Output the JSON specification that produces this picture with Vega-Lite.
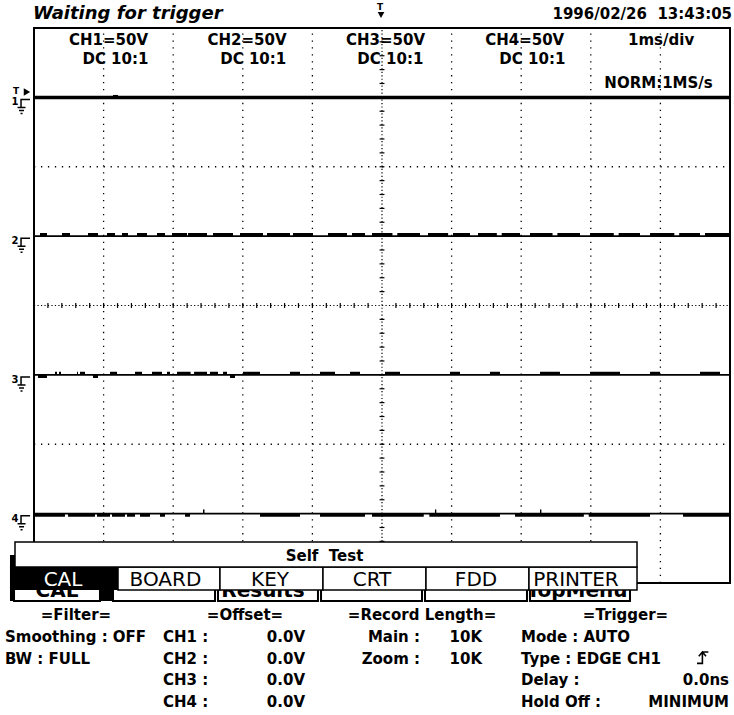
{
"$schema":"https://vega.github.io/schema/vega-lite/v6.json",
"width":696,"height":555,
"autosize":{"type":"none"},
"padding":{"left":34,"top":28,"right":4,"bottom":132},
"background":"white",
"config":{"view":{"stroke":null},"text":{"font":"DejaVu Sans","baseline":"alphabetic","color":"black"}},
"datasets":{
"channels":[{"ch":"1","level":3},{"ch":"2","level":1},{"ch":"3","level":-1},{"ch":"4","level":-3}],
"bursts":[
{"x":1.135,"x2":1.207,"y":3.0,"y2":3.035},
{"x":0.086,"x2":0.187,"y":1.0,"y2":1.045},{"x":0.402,"x2":0.517,"y":1.0,"y2":1.045},{"x":0.776,"x2":0.92,"y":1.0,"y2":1.045},{"x":1.049,"x2":1.164,"y":1.0,"y2":1.045},{"x":1.264,"x2":1.351,"y":1.0,"y2":1.045},{"x":1.48,"x2":1.624,"y":1.0,"y2":1.045},{"x":1.767,"x2":1.882,"y":1.0,"y2":1.045},{"x":1.983,"x2":2.198,"y":1.0,"y2":1.045},{"x":2.213,"x2":2.486,"y":1.0,"y2":1.045},{"x":2.572,"x2":2.859,"y":1.0,"y2":1.045},{"x":2.96,"x2":3.29,"y":1.0,"y2":1.045},{"x":3.348,"x2":3.678,"y":1.0,"y2":1.045},{"x":3.721,"x2":4.009,"y":1.0,"y2":1.045},{"x":4.224,"x2":4.497,"y":1.0,"y2":1.045},{"x":4.569,"x2":4.756,"y":1.0,"y2":1.045},{"x":4.856,"x2":5.15,"y":1.0,"y2":1.045},{"x":5.22,"x2":5.546,"y":1.0,"y2":1.045},{"x":5.661,"x2":5.95,"y":1.0,"y2":1.045},{"x":6.02,"x2":6.264,"y":1.0,"y2":1.045},{"x":6.379,"x2":6.65,"y":1.0,"y2":1.045},{"x":6.72,"x2":6.983,"y":1.0,"y2":1.045},{"x":7.126,"x2":7.45,"y":1.0,"y2":1.045},{"x":7.52,"x2":7.845,"y":1.0,"y2":1.045},{"x":7.989,"x2":8.33,"y":1.0,"y2":1.045},{"x":8.4,"x2":8.707,"y":1.0,"y2":1.045},{"x":8.851,"x2":9.2,"y":1.0,"y2":1.045},{"x":9.27,"x2":9.569,"y":1.0,"y2":1.045},{"x":9.641,"x2":10.0,"y":1.0,"y2":1.045},
{"x":0.302,"x2":0.33,"y":-1.0,"y2":-0.955},{"x":0.359,"x2":0.388,"y":-1.0,"y2":-0.955},{"x":0.618,"x2":0.632,"y":-1.0,"y2":-0.955},{"x":0.661,"x2":0.733,"y":-1.0,"y2":-0.955},{"x":1.092,"x2":1.193,"y":-1.0,"y2":-0.955},{"x":1.451,"x2":1.552,"y":-1.0,"y2":-0.955},{"x":1.695,"x2":1.839,"y":-1.0,"y2":-0.955},{"x":1.911,"x2":1.954,"y":-1.0,"y2":-0.955},{"x":2.055,"x2":2.25,"y":-1.0,"y2":-0.955},{"x":2.3,"x2":2.486,"y":-1.0,"y2":-0.955},{"x":2.529,"x2":2.644,"y":-1.0,"y2":-0.955},{"x":2.716,"x2":2.773,"y":-1.0,"y2":-0.955},{"x":3.003,"x2":3.247,"y":-1.0,"y2":-0.955},{"x":3.678,"x2":3.822,"y":-1.0,"y2":-0.955},{"x":4.109,"x2":4.325,"y":-1.0,"y2":-0.955},{"x":4.54,"x2":4.684,"y":-1.0,"y2":-0.955},{"x":5.043,"x2":5.259,"y":-1.0,"y2":-0.955},{"x":5.977,"x2":6.121,"y":-1.0,"y2":-0.955},{"x":6.552,"x2":6.695,"y":-1.0,"y2":-0.955},{"x":7.27,"x2":7.557,"y":-1.0,"y2":-0.955},{"x":7.989,"x2":8.42,"y":-1.0,"y2":-0.955},{"x":8.851,"x2":8.994,"y":-1.0,"y2":-0.955},{"x":9.569,"x2":9.856,"y":-1.0,"y2":-0.955},
{"x":0.057,"x2":0.187,"y":-1.045,"y2":-1.0},{"x":0.848,"x2":0.92,"y":-1.045,"y2":-1.0},{"x":2.816,"x2":2.888,"y":-1.045,"y2":-1.0},
{"x":0.014,"x2":0.445,"y":-3.045,"y2":-3.0},{"x":0.489,"x2":0.876,"y":-3.045,"y2":-3.0},{"x":0.905,"x2":1.092,"y":-3.045,"y2":-3.0},{"x":1.121,"x2":1.307,"y":-3.045,"y2":-3.0},{"x":1.336,"x2":1.451,"y":-3.045,"y2":-3.0},{"x":1.523,"x2":1.667,"y":-3.045,"y2":-3.0},{"x":1.81,"x2":1.882,"y":-3.045,"y2":-3.0},{"x":2.17,"x2":2.241,"y":-3.045,"y2":-3.0},{"x":3.247,"x2":3.822,"y":-3.045,"y2":-3.0},{"x":4.109,"x2":4.756,"y":-3.045,"y2":-3.0},{"x":4.856,"x2":5.6,"y":-3.045,"y2":-3.0},{"x":5.68,"x2":6.695,"y":-3.045,"y2":-3.0},{"x":6.911,"x2":7.9,"y":-3.045,"y2":-3.0},{"x":7.97,"x2":8.851,"y":-3.045,"y2":-3.0},{"x":9.325,"x2":10.0,"y":-3.045,"y2":-3.0},
{"x":2.428,"x2":2.45,"y":-3.0,"y2":-2.94},{"x":5.761,"x2":5.78,"y":-3.0,"y2":-2.94},{"x":7.27,"x2":7.29,"y":-3.0,"y2":-2.94}
],
"xticks":[{"v":0.2},{"v":0.4},{"v":0.6},{"v":0.8},{"v":1},{"v":1.2},{"v":1.4},{"v":1.6},{"v":1.8},{"v":2},{"v":2.2},{"v":2.4},{"v":2.6},{"v":2.8},{"v":3},{"v":3.2},{"v":3.4},{"v":3.6},{"v":3.8},{"v":4},{"v":4.2},{"v":4.4},{"v":4.6},{"v":4.8},{"v":5.2},{"v":5.4},{"v":5.6},{"v":5.8},{"v":6},{"v":6.2},{"v":6.4},{"v":6.6},{"v":6.8},{"v":7},{"v":7.2},{"v":7.4},{"v":7.6},{"v":7.8},{"v":8},{"v":8.2},{"v":8.4},{"v":8.6},{"v":8.8},{"v":9},{"v":9.2},{"v":9.4},{"v":9.6},{"v":9.8}],
"yticks":[{"v":-3.8},{"v":-3.6},{"v":-3.4},{"v":-3.2},{"v":-3},{"v":-2.8},{"v":-2.6},{"v":-2.4},{"v":-2.2},{"v":-2},{"v":-1.8},{"v":-1.6},{"v":-1.4},{"v":-1.2},{"v":-1},{"v":-0.8},{"v":-0.6},{"v":-0.4},{"v":-0.2},{"v":0.2},{"v":0.4},{"v":0.6},{"v":0.8},{"v":1},{"v":1.2},{"v":1.4},{"v":1.6},{"v":1.8},{"v":2},{"v":2.2},{"v":2.4},{"v":2.6},{"v":2.8},{"v":3},{"v":3.2},{"v":3.4},{"v":3.6},{"v":3.8}],
"boxes":[
{"x":-0.345,"x2":1.207,"y":-3.597,"y2":-4.26,"k":"black"},
{"x":-0.287,"x2":0.948,"y":-3.986,"y2":-4.26,"k":"btn"},
{"x":1.135,"x2":2.601,"y":-3.986,"y2":-4.26,"k":"btn"},
{"x":2.644,"x2":4.08,"y":-3.986,"y2":-4.26,"k":"btn"},
{"x":4.124,"x2":5.575,"y":-3.986,"y2":-4.26,"k":"btn"},
{"x":5.618,"x2":7.083,"y":-3.986,"y2":-4.26,"k":"btn"},
{"x":7.126,"x2":8.563,"y":-3.986,"y2":-4.26,"k":"btn"},
{"x":-0.345,"x2":1.207,"y":-3.769,"y2":-4.101,"k":"tabB"},
{"x":1.207,"x2":2.672,"y":-3.769,"y2":-4.101,"k":"tab"},
{"x":2.672,"x2":4.152,"y":-3.769,"y2":-4.101,"k":"tab"},
{"x":4.152,"x2":5.632,"y":-3.769,"y2":-4.101,"k":"tab"},
{"x":5.632,"x2":7.112,"y":-3.769,"y2":-4.101,"k":"tab"},
{"x":7.112,"x2":8.664,"y":-3.769,"y2":-4.101,"k":"tab"},
{"x":-0.273,"x2":8.664,"y":-3.409,"y2":-3.769,"k":"self"}
],
"texts":[
{"t":"Waiting for trigger","x":-0.014,"y":4.13,"g":"title"},
{"t":"1996/02/26\u00a0\u00a013:43:05","x":10.029,"y":4.13,"g":"date"},
{"t":"T","x":4.971,"y":4.259,"g":"tiny"},
{"t":"T","x":-0.259,"y":3.049,"g":"tiny"},
{"t":"CH1=50V","x":1.07,"y":3.755,"g":"hdr"},
{"t":"CH2=50V","x":3.06,"y":3.755,"g":"hdr"},
{"t":"CH3=50V","x":5.05,"y":3.755,"g":"hdr"},
{"t":"CH4=50V","x":7.05,"y":3.755,"g":"hdr"},
{"t":"1ms/div","x":9.01,"y":3.755,"g":"hdr"},
{"t":"DC 10:1","x":1.17,"y":3.481,"g":"hdr"},
{"t":"DC 10:1","x":3.15,"y":3.481,"g":"hdr"},
{"t":"DC 10:1","x":5.12,"y":3.481,"g":"hdr"},
{"t":"DC 10:1","x":7.16,"y":3.481,"g":"hdr"},
{"t":"NORM:1MS/s","x":8.973,"y":3.135,"g":"hdr"},
{"t":"Self\u00a0\u00a0Test","x":4.174,"y":-3.683,"g":"hdr"},
{"t":"CAL","x":0.33,"y":-4.202,"g":"btn"},
{"t":"Results","x":3.29,"y":-4.202,"g":"btn"},
{"t":"TopMenu","x":7.802,"y":-4.202,"g":"btn"},
{"t":"CAL","x":0.417,"y":-4.05,"g":"tabW"},
{"t":"BOARD","x":1.889,"y":-4.05,"g":"tab"},
{"t":"KEY","x":3.391,"y":-4.05,"g":"tab"},
{"t":"CRT","x":4.856,"y":-4.05,"g":"tab"},
{"t":"FDD","x":6.351,"y":-4.05,"g":"tab"},
{"t":"PRINTER","x":7.787,"y":-4.05,"g":"tab"},
{"t":"=Filter=","x":0.603,"y":-4.533,"g":"infoC"},
{"t":"=Offset=","x":3.032,"y":-4.533,"g":"infoC"},
{"t":"=Record Length=","x":5.575,"y":-4.533,"g":"infoC"},
{"t":"=Trigger=","x":8.499,"y":-4.533,"g":"infoC"},
{"t":"Smoothing : OFF","x":-0.417,"y":-4.85,"g":"infoL"},
{"t":"BW : FULL","x":-0.417,"y":-5.167,"g":"infoL"},
{"t":"CH1 :","x":1.853,"y":-4.85,"g":"infoL"},
{"t":"CH2 :","x":1.853,"y":-5.167,"g":"infoL"},
{"t":"CH3 :","x":1.853,"y":-5.47,"g":"infoL"},
{"t":"CH4 :","x":1.853,"y":-5.787,"g":"infoL"},
{"t":"Mode : AUTO","x":6.997,"y":-4.85,"g":"infoL"},
{"t":"Type : EDGE CH1","x":6.997,"y":-5.167,"g":"infoL"},
{"t":"Delay :","x":6.997,"y":-5.47,"g":"infoL"},
{"t":"Hold Off :","x":6.997,"y":-5.787,"g":"infoL"},
{"t":"0.0V","x":3.894,"y":-4.85,"g":"infoR"},
{"t":"0.0V","x":3.894,"y":-5.167,"g":"infoR"},
{"t":"0.0V","x":3.894,"y":-5.47,"g":"infoR"},
{"t":"0.0V","x":3.894,"y":-5.787,"g":"infoR"},
{"t":"Main :","x":5.546,"y":-4.85,"g":"infoR"},
{"t":"Zoom :","x":5.546,"y":-5.167,"g":"infoR"},
{"t":"10K","x":6.437,"y":-4.85,"g":"infoR"},
{"t":"10K","x":6.437,"y":-5.167,"g":"infoR"},
{"t":"0.0ns","x":9.986,"y":-5.47,"g":"infoR"},
{"t":"MINIMUM","x":9.986,"y":-5.787,"g":"infoR"}
]
},
"layer":[
{"data":{"values":[{"x":1},{"x":2},{"x":3},{"x":4},{"x":6},{"x":7},{"x":8},{"x":9}]},
 "mark":{"type":"rule","color":"black","strokeWidth":1.3,"strokeDash":[1.3,5.64]},
 "encoding":{"x":{"field":"x","type":"quantitative","scale":{"domain":[0,10],"nice":false,"zero":false},"axis":null},
  "y":{"datum":-4,"type":"quantitative","scale":{"domain":[-4,4],"nice":false,"zero":false},"axis":null},"y2":{"datum":4}}},
{"data":{"values":[{"y":-2},{"y":2}]},
 "mark":{"type":"rule","color":"black","strokeWidth":1.3,"strokeDash":[1.3,5.66]},
 "encoding":{"x":{"datum":0,"type":"quantitative","scale":{"domain":[0,10],"nice":false,"zero":false},"axis":null},"x2":{"datum":10},
  "y":{"field":"y","type":"quantitative","scale":{"domain":[-4,4],"nice":false,"zero":false},"axis":null}}},
{"data":{"values":[{"x":5}]},
 "mark":{"type":"rule","color":"black","strokeWidth":1.2,"strokeDash":[1.2,2.27]},
 "encoding":{"x":{"field":"x","type":"quantitative","scale":{"domain":[0,10],"nice":false,"zero":false},"axis":null},
  "y":{"datum":-4,"type":"quantitative","scale":{"domain":[-4,4],"nice":false,"zero":false},"axis":null},"y2":{"datum":4}}},
{"data":{"values":[{"y":0}]},
 "mark":{"type":"rule","color":"black","strokeWidth":1.2,"strokeDash":[1.2,2.28]},
 "encoding":{"x":{"datum":0,"type":"quantitative","scale":{"domain":[0,10],"nice":false,"zero":false},"axis":null},"x2":{"datum":10},
  "y":{"field":"y","type":"quantitative","scale":{"domain":[-4,4],"nice":false,"zero":false},"axis":null}}},
{"data":{"name":"xticks"},
 "mark":{"type":"rule","color":"black","strokeWidth":1.2},
 "encoding":{"x":{"field":"v","type":"quantitative","scale":{"domain":[0,10],"nice":false,"zero":false},"axis":null},
  "y":{"datum":-0.035,"type":"quantitative","scale":{"domain":[-4,4],"nice":false,"zero":false},"axis":null},"y2":{"datum":0.035}}},
{"data":{"name":"yticks"},
 "mark":{"type":"rule","color":"black","strokeWidth":1.2},
 "encoding":{"x":{"datum":4.965,"type":"quantitative","scale":{"domain":[0,10],"nice":false,"zero":false},"axis":null},"x2":{"datum":5.035},
  "y":{"field":"v","type":"quantitative","scale":{"domain":[-4,4],"nice":false,"zero":false},"axis":null}}},
{"data":{"name":"channels"},
 "transform":[{"filter":"datum.ch==='1'"}],
 "mark":{"type":"rule","color":"black","strokeWidth":3.5},
 "encoding":{"x":{"datum":0,"type":"quantitative","scale":{"domain":[0,10],"nice":false,"zero":false},"axis":null},"x2":{"datum":10},
  "y":{"field":"level","type":"quantitative","scale":{"domain":[-4,4],"nice":false,"zero":false},"axis":null}}},
{"data":{"name":"channels"},
 "transform":[{"filter":"datum.ch!=='1'"}],
 "mark":{"type":"rule","color":"black","strokeWidth":1.8},
 "encoding":{"x":{"datum":0,"type":"quantitative","scale":{"domain":[0,10],"nice":false,"zero":false},"axis":null},"x2":{"datum":10},
  "y":{"field":"level","type":"quantitative","scale":{"domain":[-4,4],"nice":false,"zero":false},"axis":null}}},
{"data":{"name":"bursts"},
 "mark":{"type":"rect","color":"black"},
 "encoding":{"x":{"field":"x","type":"quantitative","scale":{"domain":[0,10],"nice":false,"zero":false},"axis":null},"x2":{"field":"x2"},
  "y":{"field":"y","type":"quantitative","scale":{"domain":[-4,4],"nice":false,"zero":false},"axis":null},"y2":{"field":"y2"}}},
{"data":{"values":[{}]},
 "mark":{"type":"rect","fillOpacity":0,"stroke":"black","strokeWidth":2},
 "encoding":{"x":{"datum":0,"type":"quantitative","scale":{"domain":[0,10],"nice":false,"zero":false},"axis":null},"x2":{"datum":10},
  "y":{"datum":-4,"type":"quantitative","scale":{"domain":[-4,4],"nice":false,"zero":false},"axis":null},"y2":{"datum":4}}},
{"data":{"name":"channels"},
 "mark":{"type":"point","shape":"M1.6,0.4 L-0.2,0.4 L-0.2,2 M-0.9,2 L0.7,2 M-0.6,2.6 L0.4,2.6 M-0.3,3.2 L0.1,3.2","size":100,"filled":false,"stroke":"black","strokeWidth":1.5,"opacity":1},
 "encoding":{"x":{"datum":-0.172,"type":"quantitative","scale":{"domain":[0,10],"nice":false,"zero":false},"axis":null},
  "y":{"field":"level","type":"quantitative","scale":{"domain":[-4,4],"nice":false,"zero":false},"axis":null}}},
{"data":{"name":"channels"},
 "mark":{"type":"text","fontSize":10,"fontWeight":"bold","align":"center","dy":8},
 "encoding":{"x":{"datum":-0.273,"type":"quantitative","scale":{"domain":[0,10],"nice":false,"zero":false},"axis":null},
  "y":{"field":"level","type":"quantitative","scale":{"domain":[-4,4],"nice":false,"zero":false},"axis":null},"text":{"field":"ch"}}},
{"data":{"values":[{"x":-0.101,"y":3.077}]},
 "mark":{"type":"point","shape":"triangle-right","size":55,"filled":true,"color":"black","opacity":1},
 "encoding":{"x":{"field":"x","type":"quantitative","scale":{"domain":[0,10],"nice":false,"zero":false},"axis":null},
  "y":{"field":"y","type":"quantitative","scale":{"domain":[-4,4],"nice":false,"zero":false},"axis":null}}},
{"data":{"values":[{"x":4.986,"y":4.187}]},
 "mark":{"type":"point","shape":"triangle-down","size":45,"filled":true,"color":"black","opacity":1},
 "encoding":{"x":{"field":"x","type":"quantitative","scale":{"domain":[0,10],"nice":false,"zero":false},"axis":null},
  "y":{"field":"y","type":"quantitative","scale":{"domain":[-4,4],"nice":false,"zero":false},"axis":null}}},
{"data":{"name":"boxes"},
 "transform":[{"filter":"datum.k==='black'"}],
 "mark":{"type":"rect","color":"black"},
 "encoding":{"x":{"field":"x","type":"quantitative","scale":{"domain":[0,10],"nice":false,"zero":false},"axis":null},"x2":{"field":"x2"},
  "y":{"field":"y","type":"quantitative","scale":{"domain":[-4,4],"nice":false,"zero":false},"axis":null},"y2":{"field":"y2"}}},
{"data":{"name":"boxes"},
 "transform":[{"filter":"datum.k==='btn'"}],
 "mark":{"type":"rect","fill":"white","stroke":"black","strokeWidth":2,"opacity":1},
 "encoding":{"x":{"field":"x","type":"quantitative","scale":{"domain":[0,10],"nice":false,"zero":false},"axis":null},"x2":{"field":"x2"},
  "y":{"field":"y","type":"quantitative","scale":{"domain":[-4,4],"nice":false,"zero":false},"axis":null},"y2":{"field":"y2"}}},
{"data":{"name":"texts"},
 "transform":[{"filter":"datum.g==='btn'"}],
 "mark":{"type":"text","fontSize":20,"fontWeight":"bold","align":"center"},
 "encoding":{"x":{"field":"x","type":"quantitative","scale":{"domain":[0,10],"nice":false,"zero":false},"axis":null},
  "y":{"field":"y","type":"quantitative","scale":{"domain":[-4,4],"nice":false,"zero":false},"axis":null},"text":{"field":"t"}}},
{"data":{"name":"boxes"},
 "transform":[{"filter":"datum.k==='tabB'"}],
 "mark":{"type":"rect","color":"black"},
 "encoding":{"x":{"field":"x","type":"quantitative","scale":{"domain":[0,10],"nice":false,"zero":false},"axis":null},"x2":{"field":"x2"},
  "y":{"field":"y","type":"quantitative","scale":{"domain":[-4,4],"nice":false,"zero":false},"axis":null},"y2":{"field":"y2"}}},
{"data":{"name":"boxes"},
 "transform":[{"filter":"datum.k==='tab' || datum.k==='self'"}],
 "mark":{"type":"rect","fill":"white","stroke":"black","strokeWidth":1.5,"opacity":1},
 "encoding":{"x":{"field":"x","type":"quantitative","scale":{"domain":[0,10],"nice":false,"zero":false},"axis":null},"x2":{"field":"x2"},
  "y":{"field":"y","type":"quantitative","scale":{"domain":[-4,4],"nice":false,"zero":false},"axis":null},"y2":{"field":"y2"}}},
{"data":{"name":"texts"},
 "transform":[{"filter":"datum.g==='tab'"}],
 "mark":{"type":"text","fontSize":20,"align":"center"},
 "encoding":{"x":{"field":"x","type":"quantitative","scale":{"domain":[0,10],"nice":false,"zero":false},"axis":null},
  "y":{"field":"y","type":"quantitative","scale":{"domain":[-4,4],"nice":false,"zero":false},"axis":null},"text":{"field":"t"}}},
{"data":{"name":"texts"},
 "transform":[{"filter":"datum.g==='tabW'"}],
 "mark":{"type":"text","fontSize":20,"align":"center","color":"white"},
 "encoding":{"x":{"field":"x","type":"quantitative","scale":{"domain":[0,10],"nice":false,"zero":false},"axis":null},
  "y":{"field":"y","type":"quantitative","scale":{"domain":[-4,4],"nice":false,"zero":false},"axis":null},"text":{"field":"t"}}},
{"data":{"name":"texts"},
 "transform":[{"filter":"datum.g==='title'"}],
 "mark":{"type":"text","fontSize":18,"fontWeight":"bold","fontStyle":"italic","align":"left"},
 "encoding":{"x":{"field":"x","type":"quantitative","scale":{"domain":[0,10],"nice":false,"zero":false},"axis":null},
  "y":{"field":"y","type":"quantitative","scale":{"domain":[-4,4],"nice":false,"zero":false},"axis":null},"text":{"field":"t"}}},
{"data":{"name":"texts"},
 "transform":[{"filter":"datum.g==='date' || datum.g==='infoR'"}],
 "mark":{"type":"text","fontSize":15,"fontWeight":"bold","align":"right"},
 "encoding":{"x":{"field":"x","type":"quantitative","scale":{"domain":[0,10],"nice":false,"zero":false},"axis":null},
  "y":{"field":"y","type":"quantitative","scale":{"domain":[-4,4],"nice":false,"zero":false},"axis":null},"text":{"field":"t"}}},
{"data":{"name":"texts"},
 "transform":[{"filter":"datum.g==='tiny'"}],
 "mark":{"type":"text","fontSize":9,"fontWeight":"bold","align":"center"},
 "encoding":{"x":{"field":"x","type":"quantitative","scale":{"domain":[0,10],"nice":false,"zero":false},"axis":null},
  "y":{"field":"y","type":"quantitative","scale":{"domain":[-4,4],"nice":false,"zero":false},"axis":null},"text":{"field":"t"}}},
{"data":{"name":"texts"},
 "transform":[{"filter":"datum.g==='hdr' || datum.g==='infoC'"}],
 "mark":{"type":"text","fontSize":15,"fontWeight":"bold","align":"center"},
 "encoding":{"x":{"field":"x","type":"quantitative","scale":{"domain":[0,10],"nice":false,"zero":false},"axis":null},
  "y":{"field":"y","type":"quantitative","scale":{"domain":[-4,4],"nice":false,"zero":false},"axis":null},"text":{"field":"t"}}},
{"data":{"name":"texts"},
 "transform":[{"filter":"datum.g==='infoL'"}],
 "mark":{"type":"text","fontSize":15,"fontWeight":"bold","align":"left"},
 "encoding":{"x":{"field":"x","type":"quantitative","scale":{"domain":[0,10],"nice":false,"zero":false},"axis":null},
  "y":{"field":"y","type":"quantitative","scale":{"domain":[-4,4],"nice":false,"zero":false},"axis":null},"text":{"field":"t"}}},
{"data":{"values":[{"x":9.612,"y":-5.081}]},
 "mark":{"type":"point","shape":"M-1,0.9 L-0.1,0.9 L-0.1,-1 M-0.7,-0.3 L-0.1,-1 L0.5,-0.3 M-0.1,-1 L0.9,-1","size":144,"filled":false,"stroke":"black","strokeWidth":1.6,"opacity":1},
 "encoding":{"x":{"field":"x","type":"quantitative","scale":{"domain":[0,10],"nice":false,"zero":false},"axis":null},
  "y":{"field":"y","type":"quantitative","scale":{"domain":[-4,4],"nice":false,"zero":false},"axis":null}}}
]
}
